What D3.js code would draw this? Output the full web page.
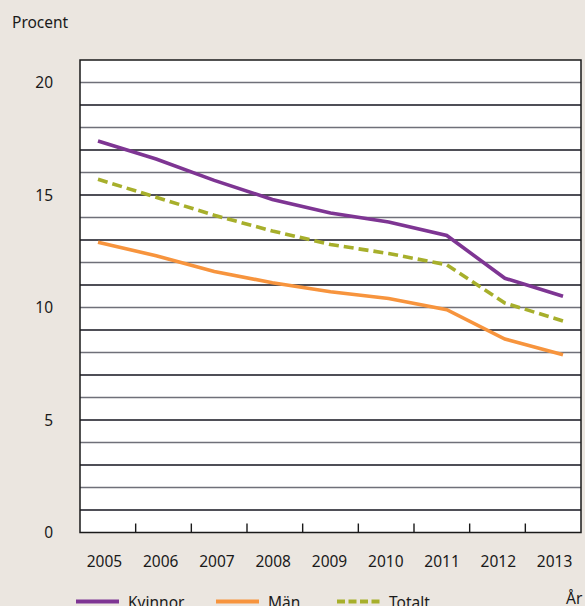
<!DOCTYPE html>
<html>
<head>
<meta charset="utf-8">
<script src="https://cdn.jsdelivr.net/npm/d3@7"></script>
<style>
  body { margin: 0; background: #ebe6e0; }
  text { font-family: "Noto Sans", "Open Sans", sans-serif; fill: #1a1a1a; }
</style>
</head>
<body>
<div id="chart"></div>
<script>
// data
var years = [2005, 2006, 2007, 2008, 2009, 2010, 2011, 2012, 2013];
var kvinnor = [17.4, 16.6, 15.65, 14.8, 14.2, 13.8, 13.2, 11.3, 10.5];
var man = [12.9, 12.3, 11.6, 11.1, 10.7, 10.4, 9.9, 8.6, 7.9];
var totalt = [15.7, 14.9, 14.1, 13.4, 12.8, 12.4, 11.9, 10.2, 9.4];
var yTicks = [0, 5, 10, 15, 20];

var series = [
  { name: "Kvinnor", values: kvinnor, color: "#7e3593", dash: null },
  { name: "Män", values: man, color: "#f7943d", dash: null },
  { name: "Totalt", values: totalt, color: "#a7af2b", dash: "10,5" }
];

var width = 585, height = 606;
var plot = { left: 80, right: 581, top: 60, bottom: 532.5 };

var svg = d3.select("#chart").append("svg")
  .attr("width", width)
  .attr("height", height);

// scales
var y = d3.scaleLinear().domain([0, 21]).range([plot.bottom, plot.top]);
var xBand = d3.scaleBand().domain(years).range([plot.left, plot.right]);
var x = d3.scaleLinear().domain([2005, 2013]).range([98, 563]);

// plot background
svg.append("rect")
  .attr("x", plot.left).attr("y", plot.top)
  .attr("width", plot.right - plot.left)
  .attr("height", plot.bottom - plot.top)
  .attr("fill", "#ffffff");

// horizontal grid lines, one per unit
svg.append("g").selectAll("line")
  .data(d3.range(1, 21))
  .enter().append("line")
  .attr("x1", plot.left).attr("x2", plot.right)
  .attr("y1", function (d) { return y(d); })
  .attr("y2", function (d) { return y(d); })
  .attr("stroke", function (d) { return d % 2 == 0 ? "#6f7079" : "#15151f"; })
  .attr("stroke-width", 1.4);

// frame
svg.append("rect")
  .attr("x", plot.left).attr("y", plot.top)
  .attr("width", plot.right - plot.left)
  .attr("height", plot.bottom - plot.top)
  .attr("fill", "none")
  .attr("stroke", "#1a1a1a")
  .attr("stroke-width", 1.5);

// y labels
svg.append("g").selectAll("text")
  .data(yTicks)
  .enter().append("text")
  .attr("x", 53)
  .attr("y", function (d) { return y(d) + 5.5; })
  .attr("text-anchor", "end")
  .style("font-size", "15.5px")
  .text(function (d) { return d; });

// x ticks between years
svg.append("g").selectAll("line")
  .data(years.slice(1))
  .enter().append("line")
  .attr("x1", function (d) { return xBand(d); })
  .attr("x2", function (d) { return xBand(d); })
  .attr("y1", plot.bottom)
  .attr("y2", plot.bottom - 9)
  .attr("stroke", "#1a1a1a")
  .attr("stroke-width", 1.4);

// x labels
svg.append("g").selectAll("text")
  .data(years)
  .enter().append("text")
  .attr("x", function (d, i) { return xBand(d) + xBand.bandwidth() / 2 + (i - 4) * 0.6 - 1; })
  .attr("y", 567)
  .attr("text-anchor", "middle")
  .style("font-size", "15.5px")
  .text(function (d) { return d; });

svg.append("text").attr("x", 12).attr("y", 28)
  .style("font-size", "15.5px").text("Procent");
svg.append("text").attr("x", 566).attr("y", 604)
  .style("font-size", "15.5px").text("År");

// lines
var line = d3.line()
  .x(function (d, i) { return x(years[i]); })
  .y(function (d) { return y(d); });

series.forEach(function (s) {
  svg.append("path")
    .datum(s.values)
    .attr("d", line)
    .attr("fill", "none")
    .attr("stroke", s.color)
    .attr("stroke-width", 3.6)
    .attr("stroke-dasharray", s.dash);
});

// legend
var legendX = [76, 216, 337];
series.forEach(function (s, i) {
  var g = svg.append("g").attr("transform", "translate(" + legendX[i] + ",601.5)");
  g.append("line")
    .attr("x1", 0).attr("x2", 43)
    .attr("stroke", s.color)
    .attr("stroke-width", 4)
    .attr("stroke-dasharray", s.dash ? "8,3.5" : null);
  g.append("text")
    .attr("x", 52).attr("y", 6)
    .style("font-size", "15.5px")
    .text(s.name);
});
</script>
</body>
</html>
